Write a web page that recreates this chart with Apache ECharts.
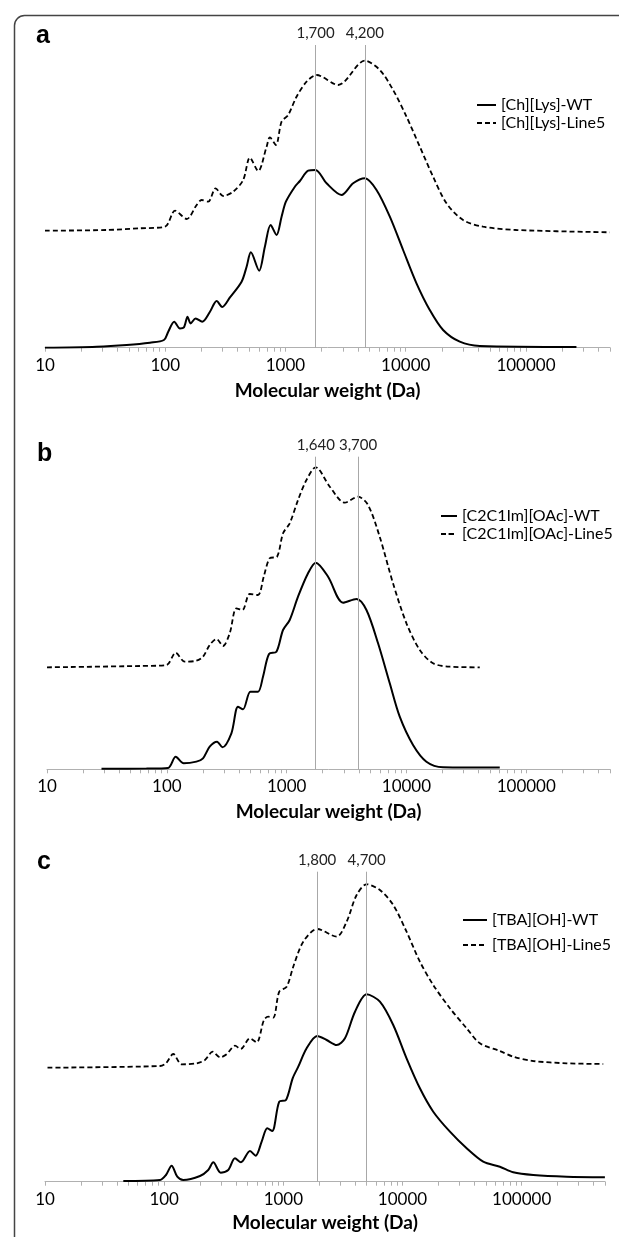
<!DOCTYPE html>
<html><head><meta charset="utf-8">
<script src="https://cdn.jsdelivr.net/npm/echarts@6/dist/echarts.min.js"></script>
<style>html,body{margin:0;padding:0;background:#fff}#c{width:619px;height:1237px}</style>
</head><body><div id="c"></div>
<script>
// ---- Data (molecular weight in Da, relative signal) ----
const aWT_mw = [10,26.9,47.8,74.6,97.5,105.9,118.8,132.5,143,153.4,162.5,179,203,235.5,267.5,297.8,345.3,431.5,475,515.5,604,674,752,843,928,1008,1197,1318,1545,1778,2197,2927,3653,4573,5717,7377,9510,12290,15850,20460,28160,41310,263000];
const aWT_sig = [0,1,2.7,5,7.7,16,26,19.3,20.3,31,24.3,29.3,26,36,46.7,40.7,50.3,66,81,95.4,77,101,122.7,112.7,131,146,161,166.7,177,177.7,164.4,152.7,164.4,169.4,157.7,131,97.7,64.4,37.7,17.7,6,1.7,0.7];
const aL5_mw = [10,32.6,61.7,99.6,120.6,150.8,182.5,200.8,227.7,262.4,303.4,367.4,444.9,505.8,593,696.5,741.5,832,928,1053,1236,1497,1814,2743,4573,6095,7858,10160,13100,16890,21830,30000,43980,83330,498000];
const aL5_sig = [117,117.7,119.4,121,137,128.7,142.7,147.7,146,159.4,151.7,156,167.7,190,176.7,201,210.4,202.7,226,232.7,251,266,272.7,262.7,287,277.7,257.7,231,201,171,144.4,127.7,121,117.7,115.4];

const bWT_mw = [28.5,67.6,102.3,118.6,138.3,176.5,200.5,228,262.5,291,346,392.6,432.5,498.6,577,635,713,822,933,1061,1245,1509,1750,2218,2958,3828,4636,5796,7257,8790,11350,14680,20200,60100];
const bWT_sig = [0.5,0.7,1.3,12.6,6,7.7,11,22.6,27.6,22,36,62.6,60,77.6,77.6,92.6,115.3,117.6,139.3,149.3,172.6,196,206.6,192.6,166.6,170.3,159.3,126,86,52.6,24.3,7.6,2,1.7];
const bL5_mw = [10,59.4,99.3,118.6,141,176.5,200.5,228,259.4,294.4,335,381,427.6,492,577,644,722.6,831.8,933.3,1061,1245,1463,1750,2291,3057,3945,4779,5981,7727,10000,12920,16680,23000,40930];
const bL5_sig = [102,103.3,104.3,116.6,107.6,108.6,112.6,124.3,130.3,123.3,136,161,159.3,175.3,174.3,192.6,211,212.6,236,246,269.3,289.3,302,282.6,266.6,272.6,264.3,232.6,186,146,119.3,106,102.6,102];

const cWT_mw = [45.4,92.3,103.5,115.5,128.8,144.6,199.8,234.4,258.3,297.9,344.9,392.7,440.8,524.8,585.7,657.7,732.9,806.6,924,1052,1197,1334,1568,1923,2307,2799,3288,3992,5000,6460,8356,10810,13990,18110,25000,34510,47530,65600,84900,125000,238000,499000];
const cWT_sig = [0.7,1.7,6.7,16,5,1.7,5.7,11.7,19.4,9,11.7,23.4,19.4,30.7,26,40,53.4,50.7,80,81.7,103.4,115,133.4,145.7,141.7,136.7,143.4,170,187.4,180,156.7,123.4,93.4,70,50,33.4,20,15,9.4,6.7,5,4.4];
const cL5_mw = [10.5,92.3,103.5,119.2,140.2,187.4,220,255.3,294,334.3,392.7,438.5,524.8,597,687.5,746.8,822.6,924,1066,1211,1469,1923,2799,3397,4120,5000,6460,8356,10810,13990,18110,25000,34510,44600,65600,84900,125000,238000,483000];
const cL5_sig = [114,115.7,118.4,127.7,117.4,118.4,121.7,130,124.4,127.4,136,132.7,143.4,139.4,161.7,165,164,190,195,215,240,252.7,245,260,286.7,297.4,291.7,276.7,250,220,196.7,173.4,153.4,138.4,130.7,125,120.7,118.4,117.7];

const seriesNames = [
  ['[Ch][Lys]-WT','[Ch][Lys]-Line5'],
  ['[C2C1Im][OAc]-WT','[C2C1Im][OAc]-Line5'],
  ['[TBA][OH]-WT','[TBA][OH]-Line5']
];
const peakLinePos = [[1778,4573],[1750,3945],[1923,5000]];
const peakLineLabels = [['1,700','4,200'],['1,640','3,700'],['1,800','4,700']];
const panelLetters = ['a','b','c'];
const majorTicks = [10,100,1000,10000,100000];
const allTicks = [10,20,30,40,50,60,70,80,90,100,200,300,400,500,600,700,800,900,1000,2000,3000,4000,5000,6000,7000,8000,9000,10000,20000,30000,40000,50000,60000,70000,80000,90000,100000,200000,300000,400000,500000];
const xMin = 10, xMax = 500000;

// ---- Layout ----
const grids = [
  {left:45, right:9, top:45, height:302.7},
  {left:47, right:9, top:456.7, height:312.6},
  {left:45, right:14, top:871.7, height:310}
];
const yMax = [302.7, 312.6, 310];
const nameGaps = [34, 33, 32];
const legendPos = [
  {left:471, top:92, itemWidth:19, itemGap:2},
  {left:435, top:503, itemWidth:16, itemGap:2},
  {left:457, top:907, itemWidth:24, itemGap:9}
];
const letterPos = [[36,43],[37,461],[37,869]];

const wtData = [[aWT_mw,aWT_sig],[bWT_mw,bWT_sig],[cWT_mw,cWT_sig]];
const l5Data = [[aL5_mw,aL5_sig],[bL5_mw,bL5_sig],[cL5_mw,cL5_sig]];
const pair = (xs, ys) => xs.map((x,i)=>[x, ys[i]]);

const FONT = 'Lato, "Open Sans", sans-serif';
const xAxes = [], yAxes = [], series = [], legends = [], graphics = [];
for (let i = 0; i < 3; i++) {
  xAxes.push({
    type:'log', logBase:10, gridIndex:i, min:xMin, max:xMax,
    name:'Molecular weight (Da)', nameLocation:'middle', nameGap:nameGaps[i],
    nameTextStyle:{fontFamily:FONT, fontWeight:'bold', fontSize:19, color:'#000'},
    axisLine:{lineStyle:{color:'#b0b0b0', width:1}},
    axisTick:{show:true, length:4, lineStyle:{color:'#b0b0b0'}, customValues:allTicks},
    axisLabel:{color:'#000', fontFamily:FONT, fontSize:17, margin:9, customValues:majorTicks,
      formatter: v => String(Math.round(v))},
    splitLine:{show:false}, minorTick:{show:false}
  });
  yAxes.push({type:'value', gridIndex:i, min:0, max:yMax[i], show:false});
  series.push({
    name:seriesNames[i][0], type:'line', xAxisIndex:i, yAxisIndex:i,
    data:pair(wtData[i][0], wtData[i][1]), symbol:'none', smooth:0.3,
    lineStyle:{color:'#000', width:2}, itemStyle:{color:'#000'},
    markLine:{silent:true, symbol:['none','none'], animation:false,
      lineStyle:{color:'#a8a8a8', width:1, type:'solid'},
      label:{show:true, position:'end', distance:4, color:'#222', fontFamily:FONT, fontSize:15},
      data: peakLinePos[i].map((v,k)=>({xAxis:v, label:{formatter:peakLineLabels[i][k]}}))
    }
  });
  series.push({
    name:seriesNames[i][1], type:'line', xAxisIndex:i, yAxisIndex:i,
    data:pair(l5Data[i][0], l5Data[i][1]), symbol:'none', smooth:0.3,
    lineStyle:{color:'#000', width:1.8, type:[5,3]}, itemStyle:{color:'#000'}
  });
  legends.push({
    data:seriesNames[i], orient:'vertical', left:legendPos[i].left, top:legendPos[i].top,
    itemWidth:legendPos[i].itemWidth, itemHeight:2, itemGap:legendPos[i].itemGap,
    selectedMode:false,
    textStyle:{color:'#000', fontFamily:FONT, fontSize:16}
  });
  graphics.push({type:'text', left:letterPos[i][0], top:letterPos[i][1]-19,
    style:{text:panelLetters[i], font:'bold 25px "Liberation Sans", Arial, sans-serif', fill:'#000'}});
}
graphics.push({type:'rect', left:12, top:13, shape:{width:700, height:1400, r:10}, z:-1,
  style:{fill:'none', stroke:'#444', lineWidth:1.5}});

const chart = echarts.init(document.getElementById('c'), null, {renderer:'canvas'});
chart.setOption({
  animation:false,
  backgroundColor:'#fff',
  grid:grids, xAxis:xAxes, yAxis:yAxes, series:series, legend:legends, graphic:graphics
});
</script></body></html>
